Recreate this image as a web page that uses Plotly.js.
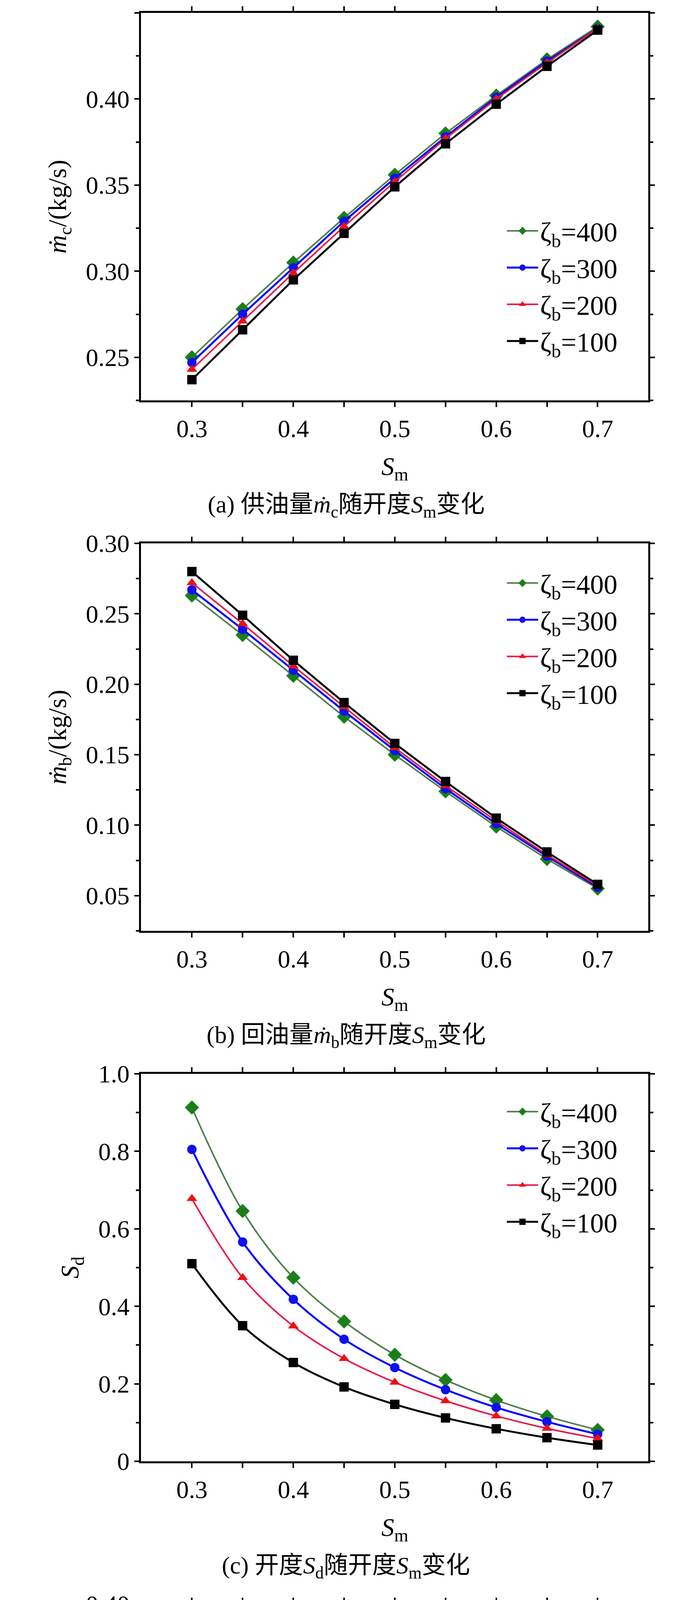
<!DOCTYPE html>
<html><head><meta charset="utf-8">
<script src="https://cdn.plot.ly/plotly-3.0.1.min.js"></script>
<style>body{margin:0;background:#fff}</style>
</head><body>
<div id="chart" style="width:1772px;height:5417px"></div>
<script>
var sm = [0.30,0.35,0.40,0.45,0.50,0.55,0.60,0.65,0.70]
var zetaNames = ['ζ<sub>b</sub>=400','ζ<sub>b</sub>=300','ζ<sub>b</sub>=200','ζ<sub>b</sub>=100']

// (a) supply flow
var mc400 = [0.250,0.278,0.305,0.331,0.356,0.380,0.402,0.423,0.442]
var mc300 = [0.247,0.275,0.302,0.329,0.354,0.378,0.401,0.422,0.441]
var mc200 = [0.243,0.271,0.299,0.326,0.352,0.377,0.400,0.421,0.441]
var mc100 = [0.237,0.266,0.295,0.322,0.349,0.374,0.397,0.419,0.440]
// (b) return flow
var mb400 = [0.263,0.235,0.206,0.177,0.150,0.124,0.099,0.076,0.055]
var mb300 = [0.267,0.239,0.210,0.181,0.153,0.126,0.101,0.078,0.056]
var mb200 = [0.272,0.243,0.213,0.184,0.155,0.128,0.103,0.079,0.057]
var mb100 = [0.280,0.249,0.217,0.187,0.158,0.131,0.105,0.081,0.058]
// (c) Sd
var sd400 = [0.913,0.646,0.474,0.361,0.275,0.210,0.158,0.116,0.081]
var sd300 = [0.805,0.566,0.418,0.315,0.242,0.185,0.139,0.102,0.070]
var sd200 = [0.678,0.474,0.349,0.265,0.204,0.156,0.117,0.085,0.059]
var sd100 = [0.510,0.350,0.255,0.192,0.147,0.112,0.084,0.061,0.042]
// (d) pressure difference
var dp400 = [0.391,0.365,0.348,0.336,0.328,0.321,0.316,0.312,0.308]
var dp300 = [0.380,0.357,0.342,0.332,0.324,0.318,0.314,0.310,0.307]
var dp200 = [0.368,0.347,0.335,0.327,0.320,0.315,0.311,0.309,0.306]
var dp100 = [0.351,0.335,0.326,0.319,0.315,0.311,0.308,0.306,0.304]

var lineColors = ['#4f7d4f','#0000ff','#e8194a','#000000']
var markerColors = ['#1a7f1a','#1010f0','#ee1111','#000000']
var symbols = ['diamond','circle','triangle-up','square']

var panels = [
  {data:[mc400,mc300,mc200,mc100], range:[0.225,0.45], dtick:0.05, minor:0.025, fmt:'.2f',
   ytitle:'<i>ṁ</i><sub>c</sub>/(kg/s)', caption:'(a) 供油量<i>ṁ</i><sub>c</sub>随开度<i>S</i><sub>m</sub>变化', legY:0.49, shape:'linear'},
  {data:[mb400,mb300,mb200,mb100], range:[0.025,0.30], dtick:0.05, minor:0.025, fmt:'.2f',
   ytitle:'<i>ṁ</i><sub>b</sub>/(kg/s)', caption:'(b) 回油量<i>ṁ</i><sub>b</sub>随开度<i>S</i><sub>m</sub>变化', legY:0.95, shape:'linear'},
  {data:[sd400,sd300,sd200,sd100], range:[0,1.0], dtick:0.2, minor:0.1, fmt:'.1f',
   ytitle:'<i>S</i><sub>d</sub>', caption:'(c) 开度<i>S</i><sub>d</sub>随开度<i>S</i><sub>m</sub>变化', legY:0.955, shape:'spline'},
  {data:[dp400,dp300,dp200,dp100], range:[0.30,0.40], dtick:0.02, minor:0.01, fmt:'.2f',
   ytitle:'Δ<i>p</i><sub>m</sub>/MPa', caption:'(d) 压差Δ<i>p</i><sub>m</sub>随开度<i>S</i><sub>m</sub>变化', legY:0.955, shape:'spline'}
]

var H = 5417, W = 1772
var font = {family:'Liberation Serif, Times New Roman, serif', color:'#000'}
var traces = [], annotations = []
var layout = {width:W, height:H, margin:{l:0,r:0,t:0,b:0}, paper_bgcolor:'#fff', plot_bgcolor:'#fff',
  font:{family:font.family, size:60, color:'#000'}, showlegend:true}

panels.forEach((p,i)=>{
  var top = 33 + i*1358, bottom = top + 992
  var dom = [1-bottom/H, 1-top/H]
  var n = i==0 ? '' : String(i+1)
  var leg = i==0 ? 'legend' : 'legend'+n
  var ax = {showline:true, linecolor:'#000', linewidth:5, mirror:'ticks', ticks:'outside', ticklen:12,
    tickwidth:4, tickcolor:'#000', showgrid:false, zeroline:false, tickfont:{family:font.family,size:64}}
  layout['xaxis'+n] = Object.assign({}, ax, {domain:[0.204,0.937], range:[0.25,0.75], tickvals:[0.3,0.4,0.5,0.6,0.7],
    ticktext:['0.3','0.4','0.5','0.6','0.7'], anchor:'y'+n,
    minor:{tickvals:[0.35,0.45,0.55,0.65], ticks:'outside', ticklen:12, tickwidth:4, tickcolor:'#000'},
    title:{text:'<i>S</i><sub>m</sub>', font:{family:font.family,size:66}, standoff:40}})
  layout['yaxis'+n] = Object.assign({}, ax, {domain:dom, range:p.range, dtick:p.dtick, tickformat:p.fmt, anchor:'x'+n,
    minor:{dtick:p.minor, ticks:'outside', ticklen:8, tickwidth:4, tickcolor:'#000'},
    title:{text:p.ytitle, font:{family:font.family,size:66}, standoff:30}})
  if(i==2) layout['yaxis'+n].tickvals = [0,0.2,0.4,0.6,0.8,1.0], layout['yaxis'+n].ticktext = ['0','0.2','0.4','0.6','0.8','1.0']
  layout[leg] = {x:0.895, xanchor:'right', y:dom[0]+(dom[1]-dom[0])*p.legY, yanchor:'top', yref:'paper',
    bgcolor:'rgba(0,0,0,0)', borderwidth:0, font:{family:font.family,size:70}, itemwidth:80, tracegroupgap:20}
  annotations.push({text:p.caption, xref:'paper', yref:'paper', x:0.5, y:1-(top+1262)/H, yanchor:'middle',
    showarrow:false, font:{family:'Liberation Serif, Noto Sans CJK SC, serif', size:62}})
  p.data.forEach((vals,k)=>{
    traces.push({x:sm, y:vals, xaxis:'x'+n, yaxis:'y'+n, type:'scatter', mode:'lines+markers',
      name:zetaNames[k], legend:leg, line:{color:lineColors[k], width:k==1||k==3?5:4, shape:p.shape},
      marker:{symbol:symbols[k], size:k==0?28:24, color:markerColors[k]}})
  })
})
layout.annotations = annotations
Plotly.newPlot('chart', traces, layout, {displayModeBar:false, staticPlot:true})
</script>
</body></html>
